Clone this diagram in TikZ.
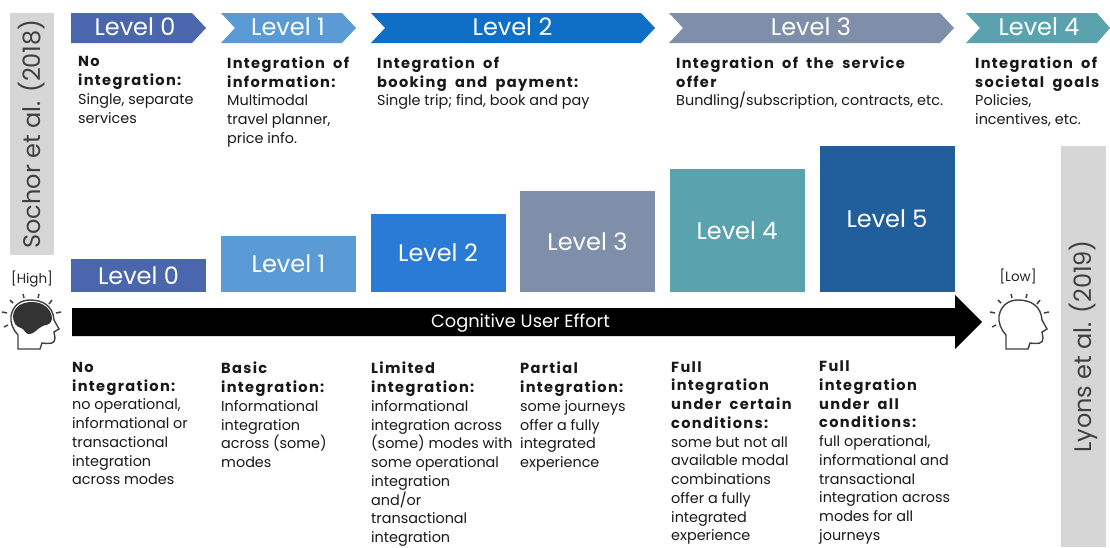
\documentclass[tikz,border=0pt]{standalone}
\usepackage{fontspec}
\setmainfont{Poppins}
\newfontfamily\hdfont[LetterSpace=9,WordSpace=1.9]{Poppins}
\definecolor{levelA}{HTML}{4A66AC}
\definecolor{levelB}{HTML}{5B9BD5}
\definecolor{levelC}{HTML}{0F6FC6}
\definecolor{levelCbar}{HTML}{2A7BD6}
\definecolor{levelD}{HTML}{7F8FA9}
\definecolor{levelE}{HTML}{5AA2AE}
\definecolor{levelF}{HTML}{215F9C}
\definecolor{sidegray}{HTML}{D6D6D6}
\newcommand{\hd}[1]{{\hdfont\bfseries\fontsize{14.6}{18.75}\selectfont #1}}
\tikzset{
  lbl/.style={text=white,font=\fontsize{24}{27}\selectfont},
  bar/.style={lbl,minimum width=135pt,inner sep=0pt},
  info/.style={anchor=north west,align=left,inner sep=0pt,text=black!90,font=\fontsize{14.4}{18.75}\selectfont},
  side/.style={fill=sidegray,inner sep=0pt,rotate=90,text=black!75,font=\fontsize{24}{28}\selectfont},
  tag/.style={inner sep=0pt,text=black!85,font=\fontsize{13.5}{15}\selectfont},
  pics/headicon/.style={code={
    \draw[line width=1.4pt,black!75,fill=white] (8,49) -- (8,35) .. controls (3,30) and (0,22) .. (1,16)
      .. controls (3,5) and (11,0) .. (20,0) .. controls (33,0) and (43,6) .. (44,20)
      -- (49,29) -- (44,32) -- (45,38) .. controls (45,44) and (40,44) .. (32,43) -- (30,49) -- cycle;
    \fill[#1] (3,16) .. controls (4,6) and (13,2) .. (22,2) .. controls (33,2) and (42,9) .. (42,19)
      .. controls (40,27) and (34,24) .. (31,27) .. controls (27,29) and (25,33) .. (20,34)
      .. controls (15,35) and (15,29) .. (11,28) .. controls (6,27) and (3,22) .. (3,16) -- cycle;
    \draw[line width=1.5pt,black!75] (13,-6) -- (14,-2) (29,-6) -- (28,-2) (42,0) -- (39,4) (51,12) -- (46,13)
      (0,0) -- (3,3) (-8,12) -- (-3,13) (-6,27) -- (-2,25);
  }}
}
\begin{document}
\begin{tikzpicture}[x=1pt,y=-1pt]
  \useasboundingbox[fill=white] (0,0) rectangle (1110,547);
  % grey side labels
  \node[side,minimum width=242pt,minimum height=44pt] (sochor) at (32,134) {Sochor et al. (2018)};
  \node[side,minimum width=401pt,minimum height=45pt] (lyons) at (1083.5,346.5) {Lyons et al. (2019)};
  % top row
  \fill[levelA] (71,13) -- (192,13) -- (206,28) -- (192,43) -- (71,43) -- cycle;
  \fill[levelB] (221,13) -- (342,13) -- (356,28) -- (342,43) -- (221,43) -- (235,28) -- cycle;
  \fill[levelC] (371,13) -- (641,13) -- (655,28) -- (641,43) -- (371,43) -- (385,28) -- cycle;
  \fill[levelD] (669,13) -- (940,13) -- (954,28) -- (940,43) -- (669,43) -- (683,28) -- cycle;
  \fill[levelE] (966,13) -- (1097,13) -- (1110,28) -- (1097,43) -- (966,43) -- (980,28) -- cycle;
  \node[lbl] (top0) at (135,27) {Level 0};
  \node[lbl] (top1) at (288,27) {Level 1};
  \node[lbl] (top2) at (512.5,27) {Level 2};
  \node[lbl] (top3) at (811,27) {Level 3};
  \node[lbl] (top4) at (1039,27) {Level 4};
  \node[info] (soc0) at (78,56.5) {\hd{No}\\\hd{integration:}\\Single, separate\\services};
  \node[info] (soc1) at (227,56.5) {\hd{Integration of}\\\hd{information:}\\Multimodal\\travel planner,\\price info.};
  \node[info] (soc2) at (377,56.5) {\hd{Integration of}\\\hd{booking and payment:}\\Single trip; find, book and pay};
  \node[info] (soc3) at (676,56.5) {\hd{Integration of the service}\\\hd{offer}\\Bundling/subscription, contracts, etc.};
  \node[info] (soc4) at (975,56.5) {\hd{Integration of}\\\hd{societal goals}\\Policies,\\incentives, etc.};
  % staircase
  \node[bar,fill=levelA,minimum height=33pt] (bar0) at (138.5,275.5) {Level 0};
  \node[bar,fill=levelB,minimum height=56pt] (bar1) at (288.5,264) {Level 1};
  \node[bar,fill=levelCbar,minimum height=78pt] (bar2) at (438,253) {Level 2};
  \node[bar,fill=levelD,minimum height=101pt] (bar3) at (587.5,241.5) {Level 3};
  \node[bar,fill=levelE,minimum height=123pt] (bar4) at (737,230.5) {Level 4};
  \node[bar,fill=levelF,minimum height=146pt] (bar5) at (887,219) {Level 5};
  % effort arrow
  \fill[black] (72,308) -- (955,308) -- (955,295) -- (982,322) -- (955,349) -- (955,336) -- (72,336) -- cycle;
  \node[text=white,inner sep=0pt,font=\fontsize{17.8}{20}\selectfont] (effort) at (520.5,323) {Cognitive User Effort};
  \node[tag] (high) at (32,279) {[High]};
  \node[tag] (low) at (1018,276) {[Low]};
  \pic at (10,300) {headicon=black!80};
  \pic at (998,300) {headicon=white};
  % lower row
  \node[info] (lyo0) at (72,362) {\hd{No}\\\hd{integration:}\\no operational,\\informational or\\transactional\\integration\\across modes};
  \node[info] (lyo1) at (221,362) {\hd{Basic}\\\hd{integration:}\\Informational\\integration\\across (some)\\modes};
  \node[info] (lyo2) at (371,362) {\hd{Limited}\\\hd{integration:}\\informational\\integration across\\(some) modes with\\some operational\\integration\\and/or\\transactional\\integration};
  \node[info] (lyo3) at (520,362) {\hd{Partial}\\\hd{integration:}\\some journeys\\offer a fully\\integrated\\experience};
  \node[info] (lyo4) at (671,361) {\hd{Full}\\\hd{integration}\\\hd{under certain}\\\hd{conditions:}\\some but not all\\available modal\\combinations\\offer a fully\\integrated\\experience};
  \node[info] (lyo5) at (819,360.5) {\hd{Full}\\\hd{integration}\\\hd{under all}\\\hd{conditions:}\\full operational,\\informational and\\transactional\\integration across\\modes for all\\journeys};
\end{tikzpicture}
\end{document}
